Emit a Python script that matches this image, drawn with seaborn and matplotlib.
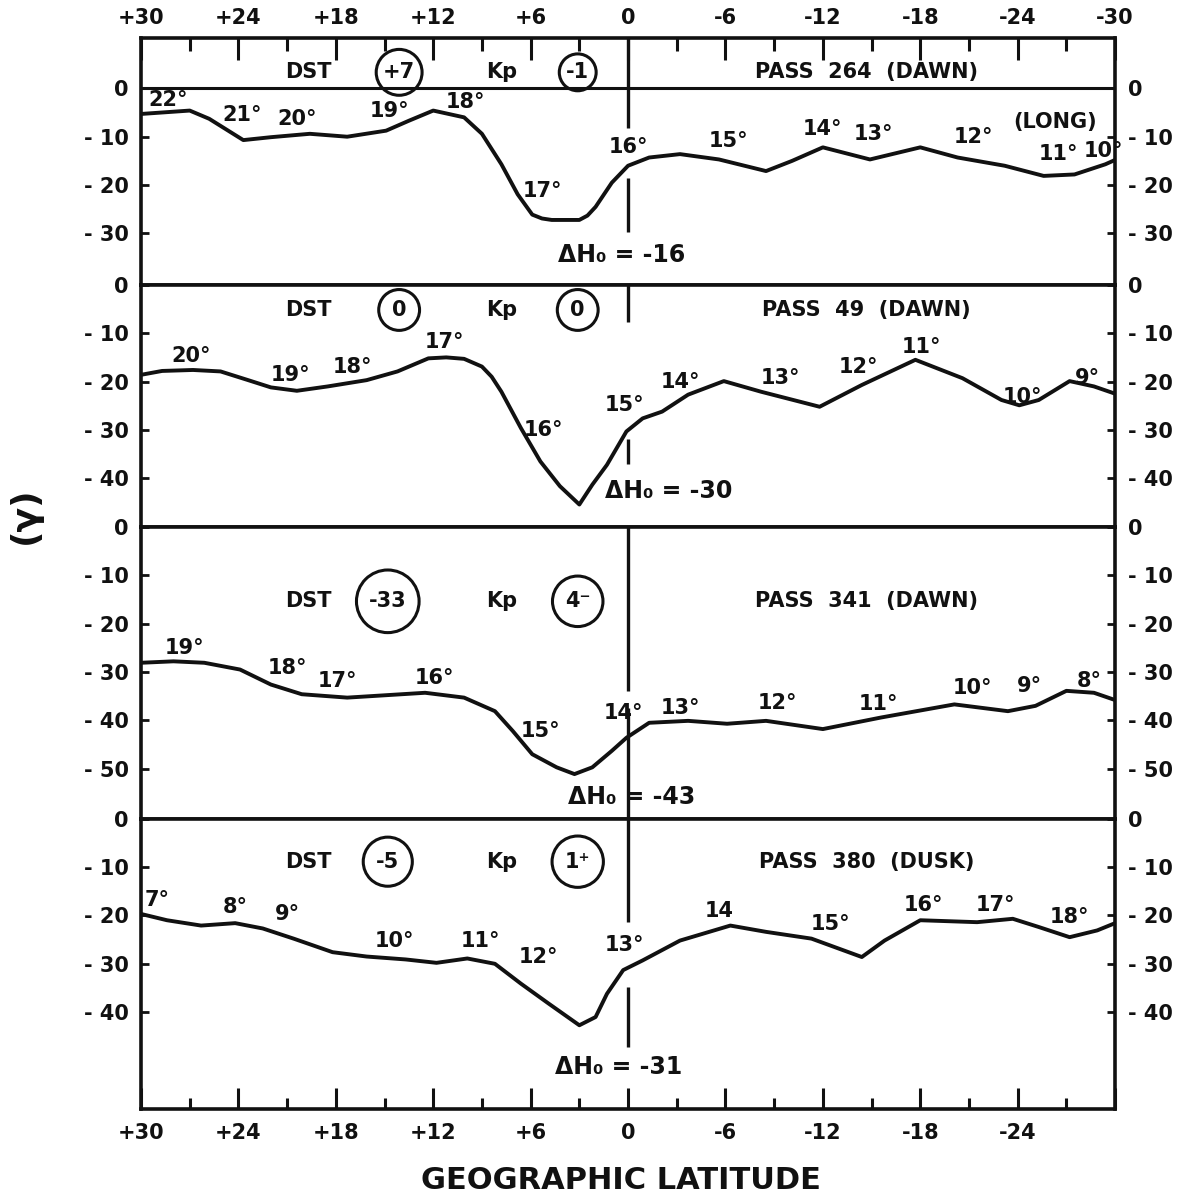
import pandas as pd
import matplotlib
matplotlib.use("Agg")
from matplotlib import pyplot as plt
import seaborn as sns

lat_264 = [30, 27.0, 25.8, 23.7, 22.0, 19.6, 17.3, 14.9, 13.5, 12.0, 10.1, 9.0, 7.8, 6.8, 5.9,
           5.3, 4.7, 3.0, 2.5, 2.0, 1.0, 0.0, -1.3, -3.2, -5.6, -8.5, -10.1, -12.0, -14.9,
           -18.0, -20.3, -23.2, -25.6, -27.5, -29.4, -30]
dh_264 = [-5.3, -4.6, -6.3, -10.7, -10.1, -9.4, -10.0, -8.75, -6.7, -4.6, -6.0, -9.4, -15.7,
          -21.9, -26.1, -26.9, -27.2, -27.2, -26.3, -24.5, -19.5, -16.0, -14.3, -13.6, -14.7,
          -17.1, -15.0, -12.2, -14.7, -12.2, -14.3, -16.0, -18.1, -17.8, -15.7, -14.8]

lat_49 = [30, 28.7, 26.8, 25.1, 23.4, 22.0, 20.4, 18.5, 16.1, 14.2, 12.3, 11.2, 10.1, 9.0, 8.4,
          7.8, 6.6, 5.4, 4.2, 3.0, 2.2, 1.3, 0.1, -0.9, -2.1, -3.7, -5.9, -8.2, -11.8, -14.4,
          -17.7, -20.6, -23.0, -24.1, -25.3, -27.2, -28.7, -30]
dh_49 = [-18.6, -17.8, -17.6, -17.9, -19.7, -21.2, -21.9, -21.0, -19.7, -17.9, -15.2, -15.0,
         -15.3, -16.9, -19.0, -22.1, -29.6, -36.5, -41.6, -45.4, -41.3, -37.2, -30.3, -27.6,
         -26.2, -22.7, -19.9, -22.1, -25.2, -20.7, -15.5, -19.3, -23.8, -24.9, -23.8, -19.9,
         -21.0, -22.5]

lat_341 = [30, 28.0, 26.1, 23.9, 22.0, 20.1, 17.3, 14.9, 12.5, 10.1, 8.2, 7.1, 5.9, 4.4, 3.3,
           2.2, 1.0, 0.1, -1.3, -3.7, -6.1, -8.5, -12.0, -15.6, -20.1, -23.4, -25.1, -27.0,
           -28.7, -30]
dh_341 = [-28.1, -27.8, -28.1, -29.5, -32.6, -34.6, -35.3, -34.8, -34.3, -35.3, -38.1, -42.2,
          -47.0, -49.7, -51.1, -49.7, -46.3, -43.6, -40.5, -40.1, -40.7, -40.1, -41.8, -39.4,
          -36.7, -38.1, -37.0, -33.9, -34.3, -35.8]

lat_380 = [30, 28.4, 26.3, 24.2, 22.5, 20.6, 18.2, 16.1, 13.7, 11.8, 9.9, 8.2, 6.6, 4.9, 3.0,
           2.0, 1.3, 0.3, -0.9, -3.2, -6.3, -8.5, -11.3, -14.4, -15.8, -18.0, -21.5, -23.7,
           -25.3, -27.2, -28.9, -30]
dh_380 = [-19.7, -21.0, -22.1, -21.6, -22.7, -24.8, -27.6, -28.5, -29.1, -29.8, -28.9, -30.0,
          -34.1, -38.2, -42.7, -41.0, -36.2, -31.3, -29.3, -25.2, -22.1, -23.4, -24.8, -28.6,
          -25.2, -21.0, -21.4, -20.7, -22.4, -24.5, -23.1, -21.6]

passes = ["PASS  264  (DAWN)", "PASS  49  (DAWN)", "PASS  341  (DAWN)", "PASS  380  (DUSK)"]
dst = ["+7", "0", "-33", "-5"]
kp = ["-1", "0", "4⁻", "1⁺"]
delta_h0 = ["-16", "-30", "-43", "-31"]

# longitude labels along each curve: (text, lat, gamma)
long_264 = [("22°", 28.3, -2.5), ("21°", 23.8, -5.6), ("20°", 20.4, -6.3), ("19°", 14.7, -4.6),
            ("18°", 10.0, -2.8), ("17°", 5.3, -21.3), ("16°", 0.0, -12.2), ("15°", -6.2, -10.8),
            ("14°", -12.0, -8.4), ("13°", -15.1, -9.4), ("12°", -21.3, -10.1),
            ("(LONG)", -26.3, -7.0), ("11°", -26.5, -13.6), ("10°", -29.3, -12.9)]
long_49 = [("20°", 26.9, -14.8), ("19°", 20.8, -18.6), ("18°", 17.0, -16.9), ("17°", 11.3, -11.8),
           ("16°", 5.2, -30.0), ("15°", 0.2, -24.8), ("14°", -3.2, -20.0), ("13°", -9.4, -19.3),
           ("12°", -14.2, -16.9), ("11°", -18.1, -12.8), ("10°", -24.3, -23.1), ("9°", -28.3, -19.3)]
long_341 = [("19°", 27.3, -25.0), ("18°", 21.0, -29.1), ("17°", 17.9, -31.9), ("16°", 11.9, -31.2),
            ("15°", 5.4, -42.2), ("14°", 0.3, -38.4), ("13°", -3.2, -37.4), ("12°", -9.2, -36.4),
            ("11°", -15.4, -36.7), ("10°", -21.2, -33.3), ("9°", -24.7, -32.9), ("8°", -28.4, -31.9)]
long_380 = [("7°", 29.0, -16.9), ("8°", 24.2, -18.3), ("9°", 21.0, -19.7), ("10°", 14.4, -25.2),
            ("11°", 9.1, -25.2), ("12°", 5.5, -28.6), ("13°", 0.2, -26.2), ("14", -5.6, -19.0),
            ("15°", -12.5, -21.7), ("16°", -18.2, -17.9), ("17°", -22.6, -17.9), ("18°", -27.2, -20.3)]

lats = [lat_264, lat_49, lat_341, lat_380]
dhs = [dh_264, dh_49, dh_341, dh_380]
longs = [long_264, long_49, long_341, long_380]

top_labels = ["+30", "+24", "+18", "+12", "+6", "0", "-6", "-12", "-18", "-24", "-30"]
bottom_labels = ["+30", "+24", "+18", "+12", "+6", "0", "-6", "-12", "-18", "-24", ""]

# layout of each panel
ylims = [(-40.6, 10.4), (-50, 0), (-60.3, 0), (-60, 0)]
yticks = [[0, -10, -20, -30], [0, -10, -20, -30, -40],
          [0, -10, -20, -30, -40, -50], [0, -10, -20, -30, -40]]
header_y = [3.3, -5.2, -15.4, -8.9]
dst_x = [14.1, 14.1, 14.8, 14.8]
circ_pad = [0.33, 0.5, 0.6, 0.62]
dh_pos = [(0.4, -34.4), (-2.5, -42.7), (-0.25, -55.9), (0.55, -51.3)]
zero_segs = [[(10.4, -8.1), (-18.5, -29.6)], [(0, -7.6), (-31.8, -37.1)],
             [(0, -34), (-37.5, -60.3)], [(0, -21.4), (-34.8, -47.1)]]

sns.set_theme(style="white")
plt.rcParams['font.family'] = ['DejaVu Sans']
plt.rcParams['font.weight'] = 'bold'
ink = "#111111"

fig = plt.figure(figsize=(11.85, 11.98), dpi=100)
gs = fig.add_gridspec(4, 1, height_ratios=[51, 50, 60.3, 60], hspace=0,
                      left=0.119, right=0.941, top=0.9683, bottom=0.0743)

for i in range(4):
    ax = fig.add_subplot(gs[i])
    df = pd.DataFrame({"lat": lats[i], "dh": dhs[i]})
    sns.lineplot(data=df, x="lat", y="dh", ax=ax, color=ink, linewidth=2.8, errorbar=None)
    ax.set_xlim(30, -30)
    ax.set_ylim(*ylims[i])
    ax.set_xlabel("")
    ax.set_ylabel("")
    for sp in ax.spines.values():
        sp.set_linewidth(2.6)
        sp.set_color(ink)

    if i == 0:
        ax.axhline(0, color=ink, lw=2.2)
    for y0, y1 in zero_segs[i]:
        ax.vlines(0, y1, y0, color=ink, lw=2.4)

    # x ticks: top of first panel, bottom of last
    ax.set_xticks(range(30, -31, -6))
    ax.set_xticks(range(27, -28, -6), minor=True)
    ax.tick_params(axis='x', which='both', bottom=False, top=False,
                   labelbottom=False, labeltop=False)
    if i == 0:
        ax.set_xticklabels(top_labels)
        ax.tick_params(axis='x', which='major', top=True, labeltop=True, direction='in',
                       length=16, width=2.2, pad=7, labelsize=15, colors=ink)
        ax.tick_params(axis='x', which='minor', top=True, direction='in',
                       length=9.5, width=2.2, colors=ink)
    if i == 3:
        ax.set_xticklabels(bottom_labels)
        ax.tick_params(axis='x', which='major', bottom=True, labelbottom=True, direction='in',
                       length=15, width=2.2, pad=10, labelsize=15, colors=ink)
        ax.tick_params(axis='x', which='minor', bottom=True, direction='in',
                       length=8, width=2.2, colors=ink)

    ax.set_yticks(yticks[i])
    ax.set_yticklabels(["0" if v == 0 else "- %d" % -v for v in yticks[i]])
    ax.tick_params(axis='y', left=True, right=True, labelleft=True, labelright=True,
                   direction='in', length=6, width=2, pad=9, labelsize=15, colors=ink)

    # header: DST, Kp, pass
    hy = header_y[i]
    ax.text(19.7, hy, "DST", ha='center', va='center', fontsize=15, color=ink)
    ax.text(dst_x[i], hy, dst[i], ha='center', va='center', fontsize=15, color=ink,
            bbox=dict(boxstyle="circle,pad=%.2f" % circ_pad[i], fc='none', ec=ink, lw=2.2))
    ax.text(7.8, hy, "Kp", ha='center', va='center', fontsize=15, color=ink)
    ax.text(3.1, hy, kp[i], ha='center', va='center', fontsize=15, color=ink,
            bbox=dict(boxstyle="circle,pad=%.2f" % circ_pad[i], fc='none', ec=ink, lw=2.2))
    ax.text(-14.7, hy, passes[i], ha='center', va='center', fontsize=15, color=ink)

    for txt, lx, ly in longs[i]:
        ax.text(lx, ly, txt, ha='center', va='center', fontsize=15, color=ink)

    dx, dy = dh_pos[i]
    ax.text(dx, dy, "ΔH₀ = " + delta_h0[i], ha='center', va='center', fontsize=17, color=ink)

fig.text(0.021, 0.570, "(γ)", rotation=90, fontsize=26, ha='center', va='center', color=ink)
fig.text(0.524, 0.015, "GEOGRAPHIC LATITUDE", fontsize=22, ha='center', va='center', color=ink)

fig.savefig("out.png", dpi=100)
